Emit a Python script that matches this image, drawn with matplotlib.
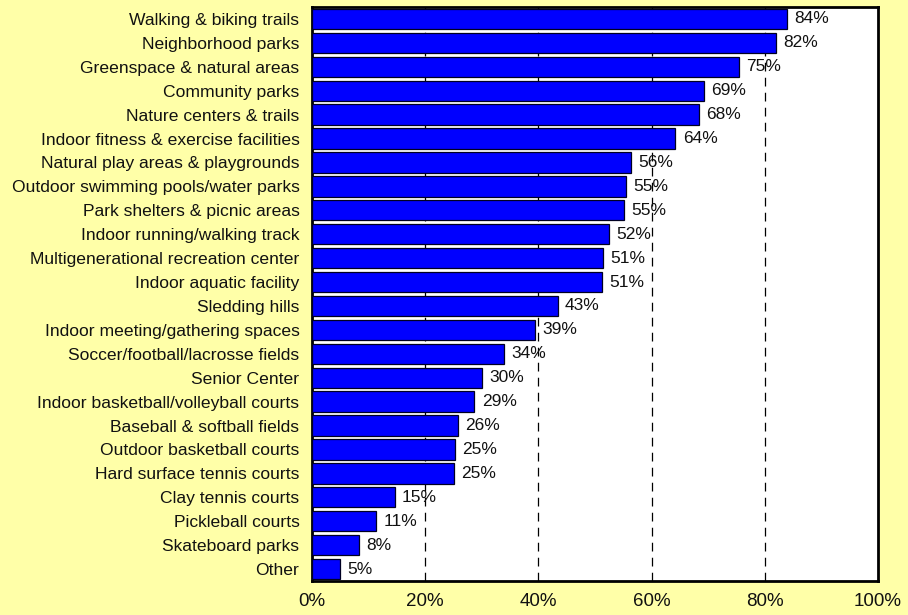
import numpy as np
import matplotlib.pyplot as plt

plt.rcParams['font.family'] = ['Liberation Sans', 'DejaVu Sans']

# data, top to bottom
facilities = ["Walking & biking trails", "Neighborhood parks", "Greenspace & natural areas",
              "Community parks", "Nature centers & trails", "Indoor fitness & exercise facilities",
              "Natural play areas & playgrounds", "Outdoor swimming pools/water parks",
              "Park shelters & picnic areas", "Indoor running/walking track",
              "Multigenerational recreation center", "Indoor aquatic facility", "Sledding hills",
              "Indoor meeting/gathering spaces", "Soccer/football/lacrosse fields", "Senior Center",
              "Indoor basketball/volleyball courts", "Baseball & softball fields",
              "Outdoor basketball courts", "Hard surface tennis courts", "Clay tennis courts",
              "Pickleball courts", "Skateboard parks", "Other"]
pct = [83.9, 81.9, 75.4, 69.2, 68.3, 64.2, 56.4, 55.4, 55.2, 52.4, 51.4, 51.3,
       43.4, 39.4, 34.0, 30.1, 28.7, 25.8, 25.3, 25.1, 14.6, 11.3, 8.3, 5.0]
xticks = [0, 20, 40, 60, 80, 100]

txt = '#111111'

fig = plt.figure(figsize=(9.08, 6.15), dpi=100)
fig.patch.set_facecolor('#FFFFA8')
ax = fig.add_axes([0.3436, 0.0553, 0.6233, 0.9333])
ax.set_facecolor('white')

y = np.arange(len(facilities))
ax.barh(y, pct, height=0.85, color='#0000FF', edgecolor='#000022', linewidth=0.9, zorder=3)
for yi, v in zip(y, pct):
    ax.text(v + 1.3, yi, "%.0f%%" % v, va='center', ha='left', fontsize=12.5,
            color=txt, zorder=4)

ax.set_ylim(len(facilities) - 0.5, -0.5)
ax.set_xlim(0, 100)
ax.set_yticks(y)
ax.set_yticklabels(facilities, fontsize=12.6, color=txt)
ax.set_xticks(xticks)
ax.set_xticklabels(["%d%%" % t for t in xticks], fontsize=13.5, color=txt)
ax.tick_params(length=0)
ax.tick_params(axis='x', pad=9)
ax.tick_params(axis='y', pad=9)

for t in xticks[1:-1]:
    ax.axvline(t, color='black', linestyle=(0, (7, 5)), linewidth=0.9, zorder=1)

for s in ax.spines.values():
    s.set_linewidth(2)
    s.set_color('black')

fig.savefig('out.png', dpi=100, facecolor=fig.get_facecolor())
